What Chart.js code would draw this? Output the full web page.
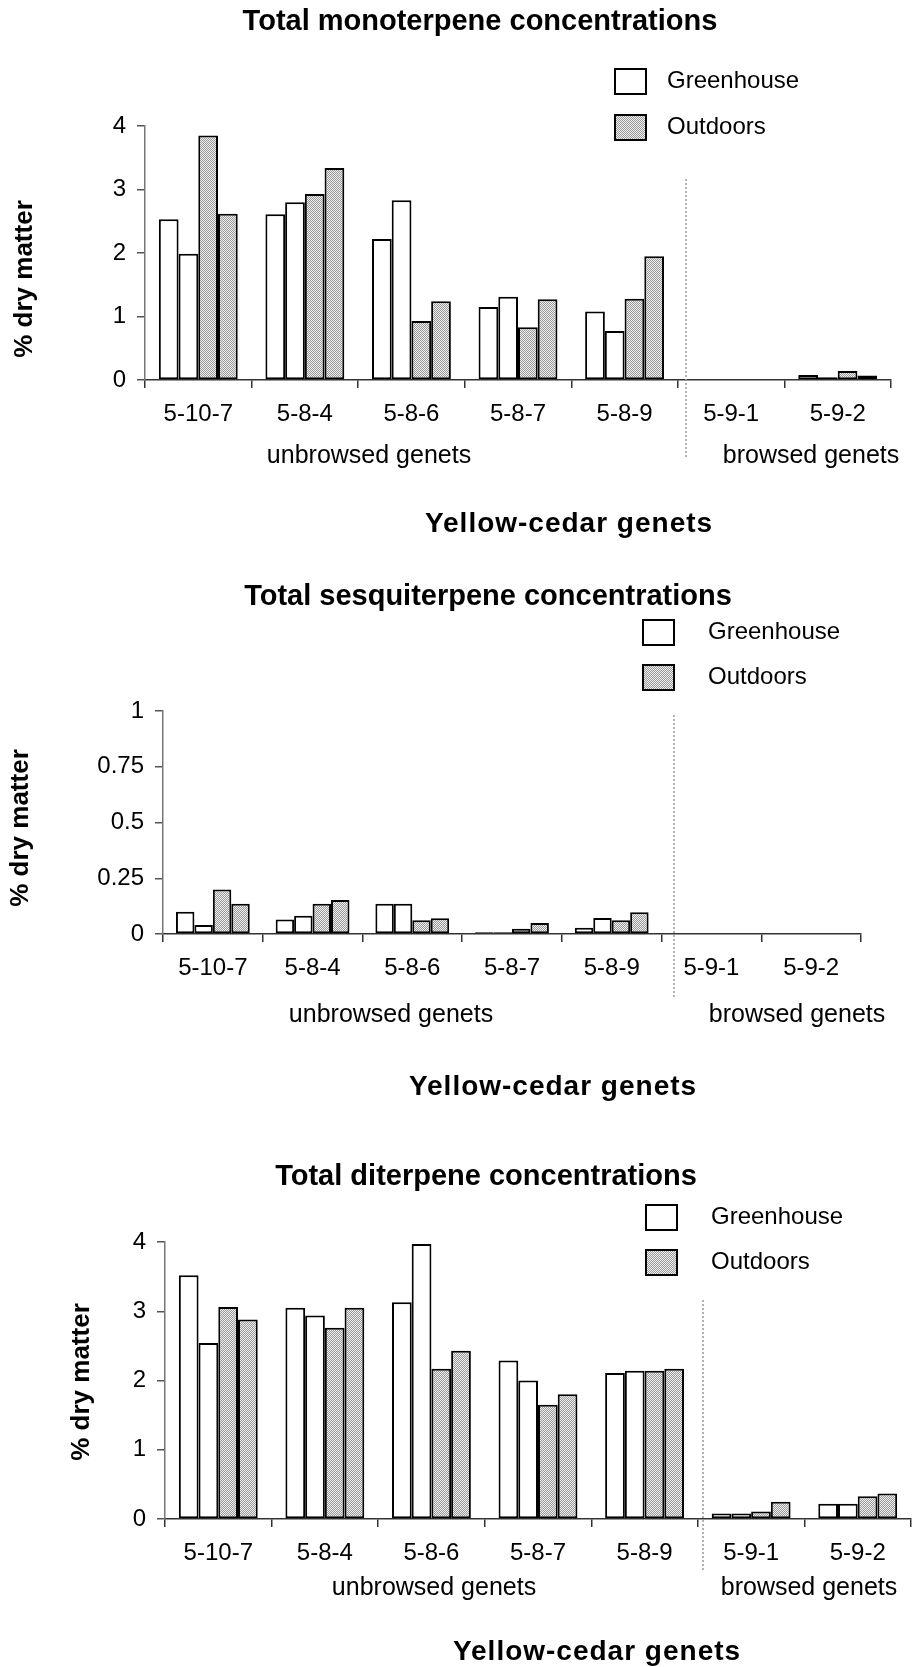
<!DOCTYPE html>
<html>
<head>
  <title>Yellow-cedar terpene concentrations</title>
  <script src="https://cdn.jsdelivr.net/npm/chart.js"></script>
  <style>
    body { margin: 0; background: #fff; }
    canvas { position: absolute; left: 0; }
  </style>
</head>
<body>
  <canvas id="mono" width="917" height="545" style="top:0px"></canvas>
  <canvas id="sesq" width="917" height="560" style="top:545px"></canvas>
  <canvas id="dite" width="917" height="562" style="top:1105px"></canvas>
  <script>
    const genets = ['5-10-7', '5-8-4', '5-8-6', '5-8-7', '5-8-9', '5-9-1', '5-9-2'];

    // monoterpenes, % dry matter
    const monoGreen1 = [2.53, 2.61, 2.22, 1.15, 1.08, 0, 0.08];
    const monoGreen2 = [1.99, 2.80, 2.83, 1.31, 0.77, 0, 0.045];
    const monoOut1   = [3.85, 2.93, 0.93, 0.83, 1.28, 0, 0.14];
    const monoOut2   = [2.62, 3.34, 1.24, 1.27, 1.95, 0, 0.07];

    // sesquiterpenes
    const sesqGreen1 = [0.10, 0.065, 0.136, 0.008, 0.028, 0, 0];
    const sesqGreen2 = [0.04, 0.082, 0.136, 0.008, 0.072, 0, 0];
    const sesqOut1   = [0.20, 0.136, 0.062, 0.024, 0.062, 0, 0];
    const sesqOut2   = [0.136, 0.153, 0.071, 0.049, 0.098, 0, 0];

    // diterpenes
    const diteGreen1 = [3.52, 3.05, 3.13, 2.29, 2.11, 0.08, 0.22];
    const diteGreen2 = [2.54, 2.94, 3.97, 2.00, 2.14, 0.08, 0.22];
    const diteOut1   = [3.06, 2.76, 2.17, 1.65, 2.14, 0.11, 0.33];
    const diteOut2   = [2.88, 3.05, 2.43, 1.80, 2.17, 0.25, 0.37];

    const FONT = "'Liberation Sans', Arial, sans-serif";

    // stippled grey like the scanned original
    function stipple() {
      const c = document.createElement('canvas');
      c.width = 2; c.height = 2;
      const g = c.getContext('2d');
      g.fillStyle = '#eeeeee'; g.fillRect(0, 0, 2, 2);
      g.fillStyle = '#9a9a9a'; g.fillRect(0, 0, 1, 1); g.fillRect(1, 1, 1, 1);
      return g.createPattern(c, 'repeat');
    }
    const grey = stipple();

    function bars(label, data, fill) {
      return {
        label: label,
        data: data,
        backgroundColor: fill,
        borderColor: '#000',
        borderWidth: 2,
        borderSkipped: false
      };
    }

    // titles, group labels, divider and legend
    const decor = {
      id: 'decor',
      afterDraw(chart) {
        const L = chart.options.plugins.decor;
        const ctx = chart.ctx;
        ctx.save();
        ctx.fillStyle = '#000';
        ctx.textBaseline = 'middle';
        ctx.textAlign = 'center';

        ctx.font = 'bold 29px ' + FONT;
        ctx.fillText(L.title, L.titleX, L.titleY);

        ctx.font = '25px ' + FONT;
        ctx.fillText('unbrowsed genets', L.unbX, L.grpY);
        ctx.fillText('browsed genets', L.brX, L.grpY);

        ctx.font = 'bold 28px ' + FONT;
        ctx.letterSpacing = '1px';
        ctx.fillText('Yellow-cedar genets', L.xtX, L.xtY);
        ctx.letterSpacing = '0px';

        ctx.save();
        ctx.translate(L.ytX, L.ytY);
        ctx.rotate(-Math.PI / 2);
        ctx.font = 'bold 26px ' + FONT;
        ctx.fillText('% dry matter', 0, 0);
        ctx.restore();

        // dotted divider between unbrowsed and browsed
        ctx.strokeStyle = '#999';
        ctx.lineWidth = 1.5;
        ctx.setLineDash([2, 2]);
        ctx.beginPath();
        ctx.moveTo(L.divX, L.divTop);
        ctx.lineTo(L.divX, L.divBot);
        ctx.stroke();
        ctx.setLineDash([]);

        // legend
        const items = [['Greenhouse', '#fff'], ['Outdoors', grey]];
        items.forEach((it, i) => {
          const y = L.legY + i * L.legGap;
          ctx.fillStyle = it[1];
          ctx.fillRect(L.legX, y, 33, 27);
          ctx.strokeStyle = '#000';
          ctx.lineWidth = 2;
          ctx.strokeRect(L.legX + 1, y + 1, 31, 25);
          ctx.fillStyle = '#000';
          ctx.textAlign = 'left';
          ctx.font = '24px ' + FONT;
          ctx.fillText(it[0], L.legX + L.legTx, y + 13);
        });
        ctx.restore();
      }
    };

    function makeChart(id, sets, L) {
      const canvas = document.getElementById(id);
      return new Chart(canvas.getContext('2d'), {
        type: 'bar',
        data: {
          labels: genets,
          datasets: [
            bars('Greenhouse', sets[0], '#fff'),
            bars('Greenhouse', sets[1], '#fff'),
            bars('Outdoors', sets[2], grey),
            bars('Outdoors', sets[3], grey)
          ]
        },
        options: {
          responsive: false,
          animation: false,
          layout: { padding: { left: 0, top: L.top, right: 917 - L.right, bottom: 0 } },
          datasets: { bar: { categoryPercentage: 0.74, barPercentage: 1 } },
          plugins: {
            legend: { display: false },
            title: { display: false },
            tooltip: { enabled: false },
            decor: L
          },
          scales: {
            x: {
              grid: { offset: true, drawOnChartArea: false, tickLength: 8, color: '#333', lineWidth: 1.5 },
              border: { color: '#333', width: 1.5 },
              ticks: { color: '#000', font: { family: FONT, size: 24 }, padding: 12, maxRotation: 0, autoSkip: false },
              afterFit: s => { s.height = canvas.height - L.bottom; }
            },
            y: {
              min: 0,
              max: L.max,
              ticks: {
                stepSize: L.step, color: '#000', font: { family: FONT, size: 24 }, padding: 11,
                callback: v => String(Math.round(v * 100) / 100)
              },
              grid: { drawOnChartArea: false, tickLength: 8, color: '#555', lineWidth: 1.5 },
              border: { color: '#777', width: 1.5 },
              afterFit: s => { s.width = L.left; }
            }
          }
        },
        plugins: [decor]
      });
    }

    makeChart('mono', [monoGreen1, monoGreen2, monoOut1, monoOut2], {
      left: 145, right: 891, top: 126, bottom: 380, max: 4, step: 1,
      title: 'Total monoterpene concentrations', titleX: 480, titleY: 22,
      grpY: 456, unbX: 369, brX: 811, xtX: 569, xtY: 524, ytX: 25, ytY: 279,
      divX: 686, divTop: 179, divBot: 457,
      legX: 614, legY: 68, legGap: 46, legTx: 53
    });

    makeChart('sesq', [sesqGreen1, sesqGreen2, sesqOut1, sesqOut2], {
      left: 163, right: 861, top: 166, bottom: 389, max: 1, step: 0.25,
      title: 'Total sesquiterpene concentrations', titleX: 488, titleY: 52,
      grpY: 470, unbX: 391, brX: 797, xtX: 553, xtY: 542, ytX: 21, ytY: 283,
      divX: 674, divTop: 170, divBot: 454,
      legX: 642, legY: 74, legGap: 45, legTx: 66
    });

    makeChart('dite', [diteGreen1, diteGreen2, diteOut1, diteOut2], {
      left: 165, right: 911, top: 137, bottom: 414, max: 4, step: 1,
      title: 'Total diterpene concentrations', titleX: 486, titleY: 72,
      grpY: 483, unbX: 434, brX: 809, xtX: 597, xtY: 547, ytX: 82, ytY: 277,
      divX: 703, divTop: 195, divBot: 466,
      legX: 645, legY: 99, legGap: 45, legTx: 66
    });
  </script>
</body>
</html>
